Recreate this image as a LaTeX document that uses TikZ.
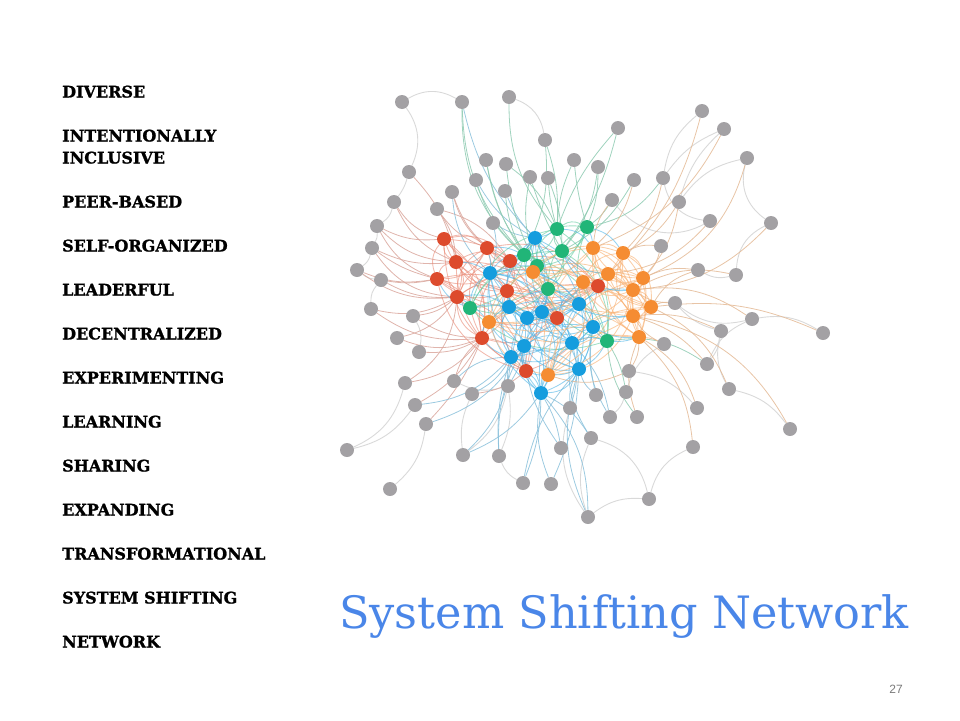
\documentclass[tikz,border=0pt]{standalone}
\usepackage{fontspec}
\setmainfont[BoldFeatures={FakeBold=1.3}]{DejaVu Serif}
\newfontfamily\numfont{Liberation Sans}
\usetikzlibrary{backgrounds}
\definecolor{cR}{HTML}{DD4B2D}
\definecolor{cO}{HTML}{F58C32}
\definecolor{cG}{HTML}{21B578}
\definecolor{cB}{HTML}{159DDE}
\definecolor{cN}{HTML}{A3A1A4}
\definecolor{lgray}{HTML}{D9D9D9}
\definecolor{tblue}{HTML}{4A86E8}
\definecolor{pgray}{HTML}{7A7A7A}
\tikzset{
  dot/.style={circle, minimum size=14pt, inner sep=0pt, draw=none},
  gn/.style={dot, fill=cN},
  rn/.style={dot, fill=cR},
  on/.style={dot, fill=cO},
  grn/.style={dot, fill=cG},
  bn/.style={dot, fill=cB},
  ge/.style={draw=lgray, line width=0.9pt},
  hR/.style={draw=cR!35!lgray, line width=0.8pt, opacity=0.85},
  hB/.style={draw=cB!40!lgray, line width=0.8pt, opacity=0.85},
  hG/.style={draw=cG!40!lgray, line width=0.8pt, opacity=0.85},
  hO/.style={draw=cO!40!lgray, line width=0.8pt, opacity=0.85},
  eR/.style={draw=cR!65!white, line width=0.85pt, opacity=0.6},
  eB/.style={draw=cB!75!white, line width=0.85pt, opacity=0.6},
  eG/.style={draw=cG!70!white, line width=0.85pt, opacity=0.6},
  eO/.style={draw=cO!70!white, line width=0.85pt, opacity=0.6},
  lab/.style={anchor=base west, inner sep=0pt, font=\bfseries\fontsize{16}{22}\selectfont, align=left},
}
\begin{document}
\begin{tikzpicture}[x=1pt,y=-1pt]
\useasboundingbox (0,0) rectangle (960,720);
% gray nodes
\foreach \n/\x/\y in {n1/402/102,n2/462/102,n3/509/97,n4/545/140,n5/409/172,n6/486/160,n7/506/164,n8/476/180,n9/530/177,n10/548/178,
n11/505/191,n12/452/192,n13/394/202,n14/437/209,n15/493/223,n16/377/226,n17/372/248,n18/357/270,n19/381/280,n20/618/128,
n21/702/111,n22/724/129,n23/747/158,n24/574/160,n25/598/167,n26/634/180,n27/663/178,n28/612/200,n29/679/202,n30/710/221,
n31/771/223,n32/661/246,n33/698/270,n34/736/275,n35/371/309,n36/413/316,n37/397/338,n38/419/352,n39/405/383,n40/454/381,
n41/508/386,n42/472/394,n43/415/405,n44/426/424,n45/347/450,n46/463/455,n47/499/456,n48/523/483,n49/551/484,n50/390/489,
n51/675/303,n52/752/319,n53/823/333,n54/721/331,n55/664/344,n56/707/364,n57/629/371,n58/729/389,n59/596/395,n60/626/392,
n61/570/408,n62/610/417,n63/637/417,n64/697/408,n65/790/429,n66/591/438,n67/561/448,n68/693/447,n69/649/499,n70/588/517}
  \node[gn] (\n) at (\x,\y) {};
% red
\foreach \n/\x/\y in {r1/444/239,r2/487/248,r3/456/262,r4/510/261,r5/437/279,r6/457/297,r7/507/291,r8/482/338,r9/526/371,r10/557/318,r11/598/286}
  \node[rn] (\n) at (\x,\y) {};
% blue
\foreach \n/\x/\y in {b1/535/238,b2/490/273,b3/509/307,b4/527/318,b5/542/312,b6/524/346,b7/511/357,b8/541/393,b9/579/304,b10/593/327,b11/572/343,b12/579/369}
  \node[bn] (\n) at (\x,\y) {};
% green
\foreach \n/\x/\y in {g1/524/255,g2/537/266,g3/548/289,g4/470/308,g5/557/229,g6/587/227,g7/562/251,g8/607/341}
  \node[grn] (\n) at (\x,\y) {};
% orange
\foreach \n/\x/\y in {o1/489/322,o2/533/272,o3/548/375,o4/593/248,o5/623/253,o6/608/274,o7/583/282,o8/643/278,o9/633/290,o10/651/307,o11/633/316,o12/639/337}
  \node[on] (\n) at (\x,\y) {};

\begin{scope}[on background layer]
% gray-gray arcs
\foreach \a/\b/\c in {n1/n2/30,n1/n5/30,n5/n13/10,n3/n4/30,n21/n27/-20,n22/n27/-15,n22/n29/-15,n23/n29/-20,n23/n31/-35,n31/n34/-30,
n34/n33/20,n27/n30/-35,n28/n30/-40,n51/n52/-25,n52/n53/20,n52/n56/-20,n54/n58/-20,n58/n65/20,n55/n60/-20,n60/n62/15,
n68/n69/-25,n69/n66/-30,n69/n70/-20,n70/n66/20,n45/n39/-25,n45/n43/-20,n50/n44/-20,n46/n42/15,n46/n41/-20,n47/n41/-15,
n48/n47/20,n40/n41/-20,n17/n18/20,n18/n19/-15,n16/n17/15,n13/n16/20,n35/n19/20,n36/n38/20,n54/n51/15,n56/n54/-15,n64/n57/-20,n61/n70/-25}
  \draw[ge] (\a) to[bend left=\c] (\b);
% hub edges
\foreach \a/\b/\c in {n13/r3/-20,n16/r1/-15,n16/r3/-20,n17/r3/-15,n17/r5/-10,n18/r5/-15,n19/r5/-10,n19/r6/-15,n14/r2/-15,n14/r3/15,
n12/r4/-20,n12/r2/-15,n35/r6/-20,n36/r6/-15,n37/r8/-20,n38/r8/-15,n39/r8/-20,n43/r8/-15,n44/r8/-10,n40/r8/15,n42/r9/-15,n13/r1/-20,n5/r3/15,n35/r8/-20,n18/r6/-20,
n17/r6/-25,n14/r4/20,n36/r8/-15,n37/r6/-20,n39/r6/-25,n16/r5/-20}
  \draw[hR] (\a) to[bend left=\c] (\b);
\foreach \a/\b/\c in {n2/b1/-15,n8/b1/-15,n15/b1/-10,n41/b7/10,n46/b8/-15,n47/b7/10,n48/b8/-10,n49/b8/15,n61/b12/15,n59/b12/15,
n62/b10/20,n66/b11/20,n67/b6/15,n70/b12/20,n49/b12/-10,n67/b8/-10,n15/b2/15,n11/b1/-10,n41/b6/-10,n66/b8/-15,n59/b10/10,n62/b11/-15,n43/b7/-20,n44/b6/-20,
n42/b7/-15,n46/b7/-20,n48/b12/15,n61/b11/-15,n70/b8/-20,n47/b6/15,n40/b7/20,n12/b2/-20}
  \draw[hB] (\a) to[bend left=\c] (\b);
\foreach \a/\b/\c in {n2/g1/-20,n4/g5/10,n6/g1/-10,n7/g2/-10,n9/g7/-5,n10/g5/-5,n11/g1/-10,n24/g6/-5,n25/g6/10,n20/g7/10,
n28/g6/10,n27/g6/20,n60/g8/-10,n56/g8/-20,n6/g2/-15,n8/g1/-15,n24/g5/-10,n26/g7/15,n20/g5/-10,n3/g5/-20,n4/g1/15,
n7/g5/15,n9/g2/-15,n10/g7/10,n25/g7/15,n2/g2/-25,n63/g8/15}
  \draw[hG] (\a) to[bend left=\c] (\b);
\foreach \a/\b/\c in {n26/o4/15,n27/o5/15,n29/o5/15,n32/o8/15,n33/o8/-15,n34/o9/-20,n51/o10/-15,n54/o11/-15,n52/o9/-20,n55/o12/-10,
n56/o11/-15,n57/o12/-15,n30/o6/20,n63/o12/20,n64/o12/-20,n58/o10/-20,n21/o6/15,n22/o4/20,n23/o8/25,n68/o12/-20,n28/o4/-15,n53/o10/-15,n31/o9/20,n65/o11/-25,
n32/o5/-15,n33/o10/-20,n29/o8/15,n55/o11/15,n57/o3/20,n51/o9/15}
  \draw[hO] (\a) to[bend left=\c] (\b);
% colored core: all pairs within clusters
\foreach \i in {1,...,11}{\foreach \j in {\i,...,11}{\ifnum\i<\j
  \pgfmathtruncatemacro\bb{mod(\i+\j,2)*60-30}\draw[eR] (r\i) to[bend left=\bb] (r\j);\fi}}
\foreach \i in {1,...,12}{\foreach \j in {\i,...,12}{\ifnum\i<\j
  \pgfmathtruncatemacro\bb{mod(\i+\j,2)*60-30}\draw[eB] (b\i) to[bend left=\bb] (b\j);\fi}}
\foreach \i in {1,...,8}{\foreach \j in {\i,...,8}{\ifnum\i<\j
  \pgfmathtruncatemacro\bb{mod(\i+\j,2)*60-30}\draw[eG] (g\i) to[bend left=\bb] (g\j);\fi}}
\foreach \i in {1,...,12}{\foreach \j in {\i,...,12}{\ifnum\i<\j
  \pgfmathtruncatemacro\bb{mod(\i+\j,2)*60-30}\draw[eO] (o\i) to[bend left=\bb] (o\j);\fi}}
\foreach \a/\b/\c in {r4/b1/-10,r4/g1/10,r7/b3/10,r8/b7/-15,r9/b6/10,r10/b4/10,r10/b5/-10,r11/o6/10,r11/o7/-10,r11/b9/10,g3/b9/10,
g2/b2/-10,o2/g2/10,o1/b3/10,o1/r6/-10,g4/r6/10,o3/b8/-10,g8/b10/10,g8/o12/-10,o7/g7/10,g6/o4/10,b1/g5/-10,r2/b2/10,o2/b9/15,
b10/o11/10,r11/o9/-10,g3/b5/10,r9/o3/-10,b12/o3/10,g4/b3/10,r7/g3/-15,o2/b2/10,r2/g1/15,g8/b12/15,r10/o7/20,b4/g3/-15,
g5/o4/25,g6/o5/20,g7/o6/-20,g1/b2/-25,g2/b5/25,g3/o11/-20,b9/o9/20,b10/o12/-15,b11/g8/20,r6/b3/20,r3/b2/15,r5/g4/-20,r8/o1/20,r9/b8/15,o1/b6/-25,g4/b2/25,r7/b4/-20,o7/b5/20}
  \draw[eB] (\a) to[bend left=\c] (\b);
\end{scope}

% texts
\node[lab] (t1) at (62,97.5) {DIVERSE};
\node[lab] (t2) at (62,163.5) {INTENTIONALLY\\INCLUSIVE};
\node[lab] (t3) at (62,207.5) {PEER-BASED};
\node[lab] (t4) at (62,251.5) {SELF-ORGANIZED};
\node[lab] (t5) at (62,295.5) {LEADERFUL};
\node[lab] (t6) at (62,339.5) {DECENTRALIZED};
\node[lab] (t7) at (62,383.5) {EXPERIMENTING};
\node[lab] (t8) at (62,427.5) {LEARNING};
\node[lab] (t9) at (62,471.5) {SHARING};
\node[lab] (t10) at (62,515.5) {EXPANDING};
\node[lab] (t11) at (62,559.5) {TRANSFORMATIONAL};
\node[lab] (t12) at (62,603.5) {SYSTEM SHIFTING};
\node[lab] (t13) at (62,647.5) {NETWORK};
\node[anchor=base west, inner sep=0pt, text=tblue, font=\fontsize{44.6}{50}\selectfont] (title) at (339,628) {System Shifting Network};
\node[anchor=base east, inner sep=0pt, text=pgray, font=\numfont\fontsize{12}{14}\selectfont] (pg) at (903,693) {27};
\end{tikzpicture}
\end{document}
